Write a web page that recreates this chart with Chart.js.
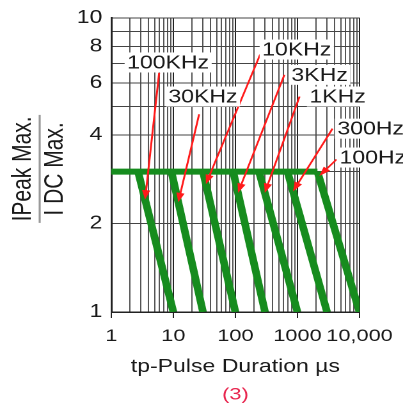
<!DOCTYPE html>
<html>
<head>
<meta charset="utf-8">
<script src="https://cdn.jsdelivr.net/npm/chart.js@4.4.1/dist/chart.umd.min.js"></script>
<style>
  html, body { margin: 0; padding: 0; background: #fff; overflow: hidden; }
  /* the original scan is stretched sideways, so the chart is drawn narrow and widened */
  #wrap { width: 315px; height: 413px; transform: scaleX(1.2794); transform-origin: 0 0; }
</style>
</head>
<body>
<div id="wrap"><canvas id="pulseChart"></canvas></div>
<script>
const xTickValues = [1, 10, 100, 1000, 10000];
const xTickLabels = ["1", "10", "100", "1000", "10,000"];
const yTickValues = [1, 2, 4, 6, 8, 10];

// Ipeak/Idc plateau and the drop-off line for each repetition frequency
const flatLevel = 3;
const flatStart = 1;
const slopeTops = [2.7, 9.3, 30, 92, 240, 690, 2100];       // µs where the drop starts
const slopeBottoms = [10, 30, 100, 300, 1000, 3000, 10000];  // µs where it reaches 1

const freqNames = ["100KHz", "30KHz", "10KHz", "3KHz", "1KHz", "300Hz", "100Hz"];
const nameX = [1.8, 8.3, 270, 800, 1560, 4400, 4750];
const nameY = [7.05, 5.4, 7.8, 6.4, 5.4, 4.2, 3.35];
const tailX = [5.9, 26, 250, 615, 1080, 3670, 4260];
const tailY = [6.5, 4.7, 7.5, 6.4, 5.4, 4.2, 3.3];
const tipX = [3.5, 12, 33.4, 110, 297, 848, 2250];
const tipY = [2.41, 2.36, 2.72, 2.54, 2.54, 2.57, 2.9];

const green = "#168c1e";
const FONT = "'Liberation Sans', Arial, sans-serif";
Chart.defaults.font.family = FONT;

const datasets = [{
  data: [{ x: flatStart, y: flatLevel }, { x: slopeTops[slopeTops.length - 1], y: flatLevel }],
}];
slopeTops.forEach((t, i) => {
  datasets.push({ data: [{ x: t, y: flatLevel }, { x: slopeBottoms[i], y: 1 }] });
});
datasets.forEach((d) => {
  d.borderColor = green;
  d.borderWidth = 6;
  d.pointRadius = 0;
  d.borderCapStyle = "butt";
});

// every decade gets its 1..9 grid lines
function decadeTicks(min, max) {
  const out = [];
  for (let d = min; d < max; d *= 10) {
    for (let k = 1; k <= 9; k++) out.push({ value: k * d });
  }
  out.push({ value: max });
  return out;
}

const arrowPlugin = {
  id: "freqArrows",
  afterDatasetsDraw(chart) {
    const { ctx, scales: { x, y } } = chart;
    ctx.save();
    ctx.strokeStyle = "#ff1a1a";
    ctx.fillStyle = "#ff1a1a";
    ctx.lineWidth = 1.5;
    freqNames.forEach((name, i) => {
      const x0 = x.getPixelForValue(tailX[i]), y0 = y.getPixelForValue(tailY[i]);
      const x1 = x.getPixelForValue(tipX[i]), y1 = y.getPixelForValue(tipY[i]);
      const a = Math.atan2(y1 - y0, x1 - x0);
      const head = 10;
      ctx.beginPath();
      ctx.moveTo(x0, y0);
      ctx.lineTo(x1 - Math.cos(a) * head * 0.7, y1 - Math.sin(a) * head * 0.7);
      ctx.stroke();
      ctx.beginPath();
      ctx.moveTo(x1, y1);
      ctx.lineTo(x1 - head * Math.cos(a - 0.33), y1 - head * Math.sin(a - 0.33));
      ctx.lineTo(x1 - head * Math.cos(a + 0.33), y1 - head * Math.sin(a + 0.33));
      ctx.closePath();
      ctx.fill();
    });
    ctx.font = "18px " + FONT;
    ctx.textBaseline = "middle";
    ctx.textAlign = "left";
    freqNames.forEach((name, i) => {
      const px = x.getPixelForValue(nameX[i]), py = y.getPixelForValue(nameY[i]);
      const w = ctx.measureText(name).width;
      ctx.fillStyle = "#fff";
      ctx.fillRect(px - 2, py - 10, w + 4, 20);
      ctx.fillStyle = "#1a1a1a";
      ctx.fillText(name, px, py + 1);
    });
    ctx.restore();
  },
};

const sidePlugin = {
  id: "ratioTitle",
  afterDraw(chart) {
    const { ctx, chartArea } = chart;
    const cy = (chartArea.top + chartArea.bottom) / 2 + 4;
    ctx.save();
    ctx.font = "21px " + FONT;
    ctx.fillStyle = "#1a1a1a";
    ctx.textAlign = "center";
    ctx.textBaseline = "middle";
    ctx.translate(18, cy);
    ctx.rotate(-Math.PI / 2);
    ctx.fillText("IPeak Max.", 0, 0);
    ctx.fillText("I DC Max.", 0, 25);
    ctx.restore();
    // fraction bar
    ctx.save();
    ctx.strokeStyle = "#999";
    ctx.lineWidth = 1.6;
    ctx.beginPath();
    ctx.moveTo(31, cy - 54);
    ctx.lineTo(31, cy + 54);
    ctx.stroke();
    // figure number
    ctx.font = "17px " + FONT;
    ctx.fillStyle = "#e8264f";
    ctx.textAlign = "center";
    ctx.textBaseline = "middle";
    ctx.fillText("(3)", (chartArea.left + chartArea.right) / 2, 395);
    ctx.restore();
  },
};

new Chart(document.getElementById("pulseChart"), {
  type: "line",
  data: { datasets },
  plugins: [arrowPlugin, sidePlugin],
  options: {
    responsive: true,
    maintainAspectRatio: false,
    devicePixelRatio: 2,
    animation: false,
    layout: { padding: { left: 0, right: 34, top: 15, bottom: 0 } },
    plugins: { legend: { display: false }, tooltip: { enabled: false } },
    scales: {
      x: {
        type: "logarithmic",
        min: 1,
        max: 10000,
        afterBuildTicks: (s) => { s.ticks = decadeTicks(1, 10000); },
        afterFit: (s) => { s.height = 101; },
        grid: {
          color: (c) => (xTickValues.includes(c.tick.value) ? "#222" : "#555"),
          tickColor: (c) => (xTickValues.includes(c.tick.value) ? "#222" : "rgba(0,0,0,0)"),
          tickLength: 6,
        },
        border: { color: "#222", width: 1.5 },
        ticks: {
          autoSkip: false,
          maxRotation: 0,
          padding: 8,
          color: "#1a1a1a",
          font: { size: 17 },
          callback: (v) => {
            const i = xTickValues.indexOf(v);
            return i >= 0 ? xTickLabels[i] : "";
          },
        },
        title: {
          display: true,
          text: "tp-Pulse Duration µs",
          color: "#1a1a1a",
          font: { size: 18 },
          padding: { top: 0, bottom: 35 },
        },
      },
      y: {
        type: "logarithmic",
        min: 1,
        max: 10,
        afterBuildTicks: (s) => { s.ticks = decadeTicks(1, 10); },
        afterFit: (s) => { s.width = 87; },
        grid: { color: "#444", drawTicks: false },
        border: { color: "#222", width: 1.5 },
        ticks: {
          autoSkip: false,
          padding: 7,
          color: "#1a1a1a",
          font: { size: 18 },
          callback: (v) => (yTickValues.includes(v) ? String(v) : ""),
        },
      },
    },
  },
});
</script>
</body>
</html>
